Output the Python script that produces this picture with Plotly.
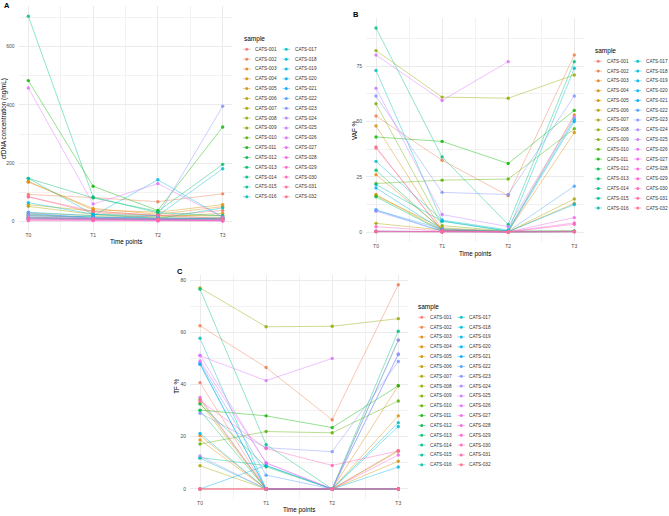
import math
import numpy as np
import plotly.graph_objects as go

W, H = 669, 516

time_labels = ["T0", "T1", "T2", "T3"]
time_pos = [0, 1, 2, 3]
samples = [f"CATS-{i:03d}" for i in range(1, 33)]

# cfDNA concentration (ng/mL), one row per sample: T0, T1, T2, T3
cfdna = [
    [85, 30, 20, 38], [93, 82, 68, 95], [135, 45, 25, 51], [138, 40, 32, 58],
    [30, 20, 15, 28], [58, 36, 20, 21], [52, 25, 15, 15], [20, 15, 10, 9],
    [25, 12, 8, 10], [15, 10, 8, 12], [483, 121, 38, 324], [10, 8, 5, 5],
    [148, 81, 35, 196], [704, 84, 30, 20], [12, 8, 6, 5], [148, 25, 10, 47],
    [20, 15, 12, 10], [65, 25, 20, 181], [32, 20, 143, 15], [15, 10, 8, 9],
    [26, 15, 10, 12], [10, 8, 6, 6], [30, 10, 20, 395], [21, 12, 10, 8],
    [9, 6, 5, 5], [458, 60, 130, 15], [15, 10, 8, 3], [8, 5, 4, 3],
    [3, 3, 2, 2], [5, 4, 3, 3], [85, 35, 22, 10], [9, 9, 7, 8],
]

# VAF %
vaf = [
    [38.5, 0.5, 0.2, 0.3], [52.5, 32.5, 16.5, 80], [26, 1.5, 0.3, 53], [48, 1, 0.3, 45],
    [17, 0.8, 0.2, 13], [16.5, 2, 0.3, 0.5], [4, 1, 0.2, 15], [82, 61, 60.5, 71],
    [58, 3, 0.5, 0.5], [22, 23.5, 24, 46.7], [43, 41, 31, 55], [16, 0.5, 0.2, 0.3],
    [28, 1, 0.3, 0.4], [92.2, 34, 3.5, 77], [0.5, 0.2, 0.1, 0.3], [21.5, 5, 0.5, 0.5],
    [73, 5, 0.5, 74], [32, 5.5, 1, 51], [10, 0.5, 0.2, 12.5], [20, 1, 0.3, 50],
    [0.3, 0.2, 0.1, 0.3], [10, 1.5, 0.4, 20.8], [61.5, 18, 17, 61.5], [9.5, 0.5, 0.2, 0.3],
    [65, 8, 2.5, 52], [80, 59.5, 77, None], [0.5, 0.2, 0.1, 6.6], [0.3, 0.1, 0.1, 0.2],
    [2.5, 0.5, 0.2, 4.2], [0.4, 0.2, 0.1, 3.6], [38, 0.8, 0.2, 0.3], [0.2, 0.1, 0.1, 0.2],
]

# TF %
tf = [
    [40.7, 0, 0, 14.8], [62.5, 46.5, 26.5, 78.2], [20.5, 0, 0, 39.5], [18.8, 0, 0, 28],
    [33, 0, 0, 10.6], [0, 0, 0, 14.4], [8.9, 0, 0, 0], [77, 62.1, 62.3, 65.2],
    [34.3, 0, 0, 0], [17.2, 22, 21.5, 33.7], [30.2, 28, 23.5, 39.5], [32.5, 8.5, 0, 0],
    [30, 0, 0, 57], [76.5, 17, 0, 60.4], [12, 9, 0, 0], [11.8, 0, 0, 0],
    [57.7, 0, 0, 25.4], [47.7, 0, 0, 23.9], [21.3, 0, 0, 8.4], [0, 9, 0, 0],
    [48, 0, 0, 0], [48.3, 5.3, 0, 51.5], [29, 15.8, 14.3, 48.8], [12.6, 0, 0, 51.7],
    [51.2, 10, 0, 57], [51, 41.5, 50, None], [49, 10, 0, 0], [35, 0, 0, 13],
    [0, 0, 0, 0], [33.8, 15.5, 9, 14.6], [0, 0, 0, 0], [0, 0, 0, 0],
]


def hcl_rgb(h, c=100.0, l=65.0):
    Xn, Yn, Zn = 95.047, 100.0, 108.883
    un = 4 * Xn / (Xn + 15 * Yn + 3 * Zn)
    vn = 9 * Yn / (Xn + 15 * Yn + 3 * Zn)
    u = c * math.cos(math.radians(h))
    v = c * math.sin(math.radians(h))
    Y = Yn * ((l + 16) / 116) ** 3
    up = u / (13 * l) + un
    vp = v / (13 * l) + vn
    X = 9 * Y * up / (4 * vp)
    Z = -X / 3 - 5 * Y + 3 * Y / vp
    X, Y, Z = X / 100, Y / 100, Z / 100
    r = 3.240479 * X - 1.537150 * Y - 0.498535 * Z
    g = -0.969256 * X + 1.875992 * Y + 0.041556 * Z
    b = 0.055648 * X - 0.204043 * Y + 1.057311 * Z

    def gam(t):
        t = 12.92 * t if t <= 0.0031308 else 1.055 * t ** (1 / 2.4) - 0.055
        return int(round(min(max(t, 0), 1) * 255))
    return gam(r), gam(g), gam(b)


rgbs = [hcl_rgb(h) for h in np.linspace(15, 375, 33)[:-1]]


def rgba(c, a):
    return f"rgba({c[0]},{c[1]},{c[2]},{a})"


def fx(px):
    return px / W


def fy(py):
    return 1 - py / H


FONT = "Liberation Sans, Arial, sans-serif"
TICKC = "#4d4d4d"

panels = [
    dict(data=cfdna, ax="", xpx=(18.6, 232.4), ypx=(231.2, 5.9), yticks=[0, 200, 400, 600],
         ystep=100, ytitle="cfDNA concentration (ng/mL)", ytx=3.5, xty=242,
         letter="A", lpos=(3, 5), leg=(243, 39, 243, 49.3, 9.83)),
    dict(data=vaf, ax="2", xpx=(366.1, 584.2), ypx=(242.2, 17.8), yticks=[0, 25, 50, 75],
         ystep=12.5, ytitle="VAF %", ytx=354, xty=254,
         letter="B", lpos=(352, 14), leg=(594, 51, 594.5, 61.3, 9.78)),
    dict(data=tf, ax="3", xpx=(190.1, 408.2), ypx=(499.2, 274.5), yticks=[0, 20, 40, 60, 80],
         ystep=10, ytitle="TF %", ytx=177, xty=510,
         letter="C", lpos=(176, 271), leg=(417, 307, 418, 317.3, 9.83)),
]

fig = go.Figure()
shapes = []
annotations = []

for p in panels:
    arr = np.array([[np.nan if v is None else v for v in row] for row in p["data"]], dtype=float)
    lo, hi = np.nanmin(arr), np.nanmax(arr)
    pad = 0.05 * (hi - lo)
    yr = [lo - pad, hi + pad]
    minor_vals = list(np.arange(p["ystep"], hi + pad, 2 * p["ystep"]))
    ax = p["ax"]
    for i, row in enumerate(p["data"]):
        fig.add_trace(go.Scatter(
            x=time_pos, y=row, mode="lines+markers",
            line=dict(color=rgba(rgbs[i], 0.55), width=0.8),
            marker=dict(color=rgba(rgbs[i], 0.85), size=3.4),
            xaxis="x" + ax, yaxis="y" + ax, showlegend=False, hoverinfo="skip",
            name=samples[i]))
    fig.layout["xaxis" + ax] = dict(
        domain=[fx(p["xpx"][0]), fx(p["xpx"][1])], range=[-0.15, 3.15],
        anchor="y" + ax, tickmode="array", tickvals=time_pos, ticktext=time_labels,
        showgrid=True, gridcolor="#ebebeb", gridwidth=0.8, zeroline=False, showline=False,
        ticks="", tickfont=dict(size=5, color=TICKC, family=FONT),
        minor=dict(tickmode="array", tickvals=[0.5, 1.5, 2.5], showgrid=True,
                   gridcolor="#f2f2f2", gridwidth=0.5),
    )
    fig.layout["yaxis" + ax] = dict(
        domain=[fy(p["ypx"][0]), fy(p["ypx"][1])], range=yr, anchor="x" + ax,
        tickmode="array", tickvals=p["yticks"],
        showgrid=True, gridcolor="#ebebeb", gridwidth=0.8, zeroline=False, showline=False,
        ticks="", tickfont=dict(size=5, color=TICKC, family=FONT), ticklabelstandoff=3,
        minor=dict(tickmode="array", tickvals=minor_vals, showgrid=True,
                   gridcolor="#f2f2f2", gridwidth=0.5),
    )
    # axis titles
    xc = (p["xpx"][0] + p["xpx"][1]) / 2
    yc = (p["ypx"][0] + p["ypx"][1]) / 2
    annotations.append(dict(text="Time points", x=fx(xc), y=fy(p["xty"]), xref="paper", yref="paper",
                            showarrow=False, xanchor="center", yanchor="middle", borderpad=0,
                            font=dict(size=6.3, color="#000", family=FONT)))
    annotations.append(dict(text=p["ytitle"], x=fx(p["ytx"]), y=fy(yc), xref="paper", yref="paper",
                            showarrow=False, xanchor="center", yanchor="middle", textangle=-90,
                            borderpad=0, font=dict(size=6.3, color="#000", family=FONT)))
    annotations.append(dict(text="<b>" + p["letter"] + "</b>", x=fx(p["lpos"][0]), y=fy(p["lpos"][1]),
                            xref="paper", yref="paper", showarrow=False, xanchor="left",
                            yanchor="middle", borderpad=0,
                            font=dict(size=7.5, color="#000", family=FONT)))
    # manual legend
    tx, ty, kx, ry0, dy = p["leg"]
    annotations.append(dict(text="sample", x=fx(tx), y=fy(ty), xref="paper", yref="paper",
                            showarrow=False, xanchor="left", yanchor="middle", borderpad=0,
                            font=dict(size=6.5, color="#000", family=FONT)))
    for i, s in enumerate(samples):
        col, r = divmod(i, 16)
        x0 = kx + col * 39.5
        yy = ry0 + r * dy
        shapes.append(dict(type="line", xref="paper", yref="paper",
                           x0=fx(x0), x1=fx(x0 + 7.5), y0=fy(yy), y1=fy(yy),
                           line=dict(color=rgba(rgbs[i], 0.6), width=0.8)))
        shapes.append(dict(type="circle", xref="paper", yref="paper",
                           x0=fx(x0 + 3.75 - 1.5), x1=fx(x0 + 3.75 + 1.5),
                           y0=fy(yy - 1.5), y1=fy(yy + 1.5),
                           fillcolor=rgba(rgbs[i], 0.9), line=dict(width=0)))
        annotations.append(dict(text=s, x=fx(x0 + 11), y=fy(yy), xref="paper", yref="paper",
                                showarrow=False, xanchor="left", yanchor="middle", borderpad=0,
                                font=dict(size=4.7, color="#333", family=FONT)))

fig.update_layout(
    width=W, height=H, margin=dict(l=0, r=0, t=0, b=0),
    paper_bgcolor="white", plot_bgcolor="white",
    shapes=shapes, annotations=annotations, showlegend=False,
    font=dict(family=FONT),
)

fig.write_html("out.html")
